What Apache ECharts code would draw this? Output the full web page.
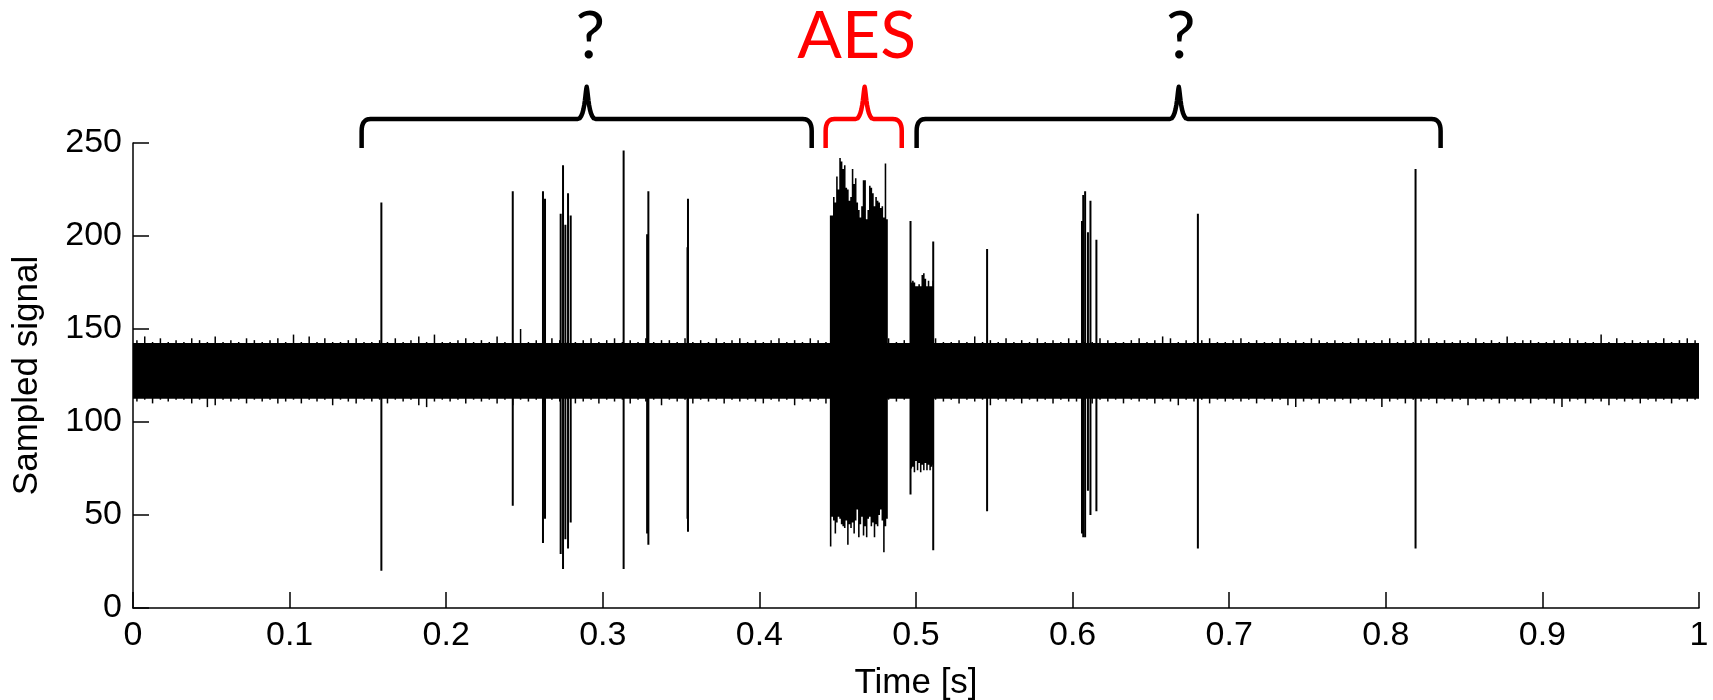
<!DOCTYPE html>
<html>
<head>
<meta charset="utf-8">
<script src="https://cdn.jsdelivr.net/npm/echarts@6/dist/echarts.min.js"></script>
<style>
  html, body { margin: 0; padding: 0; background: #fff; }
  #chart { width: 1713px; height: 700px; }
</style>
</head>
<body>
<div id="chart"></div>
<script>
// solid part of the background noise
const noiseFloor = 112.5;
const noiseCeil = 142.5;

// noise extremes, one value per 5 ms bin (drawn as thin hairs)
const noiseBin = 0.005;
const noiseHi = [
  144,146,143,145,143,144,143,145,144,143,146,143,144,143,145,144,143,144,145,143,
  147,143,146,143,145,143,143,144,145,143,143,144,143,145,143,144,146,143,147,143,
  143,144,145,143,144,143,146,143,144,150,143,144,143,145,144,143,143,144,145,143,
  144,145,143,144,143,145,143,144,144,143,145,143,144,143,145,143,144,145,143,144,
  143,144,145,143,144,143,145,144,143,146,143,144,145,143,144,143,145,143,144,143,
  143,144,145,143,143,144,143,146,143,144,143,145,143,144,143,145,143,144,143,145,
  144,143,143,145,144,143,143,144,145,143,144,146,145,143,144,143,144,145,143,143,
  144,145,143,144,143,143,145,143,144,143,145,144,143,144,143,143,145,144,143,144,
  145,143,144,143,144,145,143,144,143,144,143,145,143,144,143,146,143,144,144,143,
  143,144,143,145,144,143,143,147,143,145,143,144,143,144,143,145,143,144,145,144
];
const noiseLo = [
  111,112,110,112,111,112,112,110,112,108,109,112,111,112,110,112,111,112,110,111,
  112,110,112,111,112,109,112,111,110,112,111,112,110,112,111,112,109,108,111,112,
  111,112,110,112,111,112,110,112,109,112,111,112,110,112,111,112,110,111,112,110,
  112,111,112,110,112,111,112,109,112,111,112,110,112,111,112,110,112,111,112,111,
  110,112,111,112,109,112,111,112,110,112,111,112,110,111,112,110,112,111,112,111,
  112,110,112,111,112,110,112,111,112,109,112,111,112,110,112,111,112,110,112,111,
  111,112,110,112,111,112,110,112,111,112,110,112,111,109,112,111,112,110,112,111,
  112,111,112,110,112,111,112,109,108,111,112,110,112,111,112,110,112,111,112,108,
  111,112,110,112,111,112,110,112,111,112,109,112,111,112,110,112,111,112,110,112,
  112,110,108,111,112,110,112,111,109,112,111,112,110,112,111,112,110,112,111,112
];

// AES burst and the short block after it, 1 ms bins
const fineBin = 0.001;
const aesStart = 0.445;
const aesHi = [211,211,221,218,232,225,242,240,236,238,226,225,219,221,236,228,231,218,214,210,
  216,230,230,209,214,227,226,223,216,221,219,218,215,216,210,239,209];
const aesLo = [33,49,47,40,46,49,48,45,44,43,47,34,45,43,46,40,47,53,38,45,
  49,39,44,38,48,49,44,46,38,45,44,50,53,47,30,44,48];
const tailStart = 0.4965;
const tailHi = [175,176,175,173,173,174,173,179,180,177,173,176,173,173,176];
const tailLo = [75,76,73,79,74,78,73,77,74,78,74,77,74,76,77];

// isolated spikes
const spikeT  = [0.1586,0.2425,0.2618,0.2631,0.2731,0.2746,0.2761,0.2778,0.2795,0.3133,0.3283,0.3291,
  0.3541,0.3544,0.4965,0.5110,0.5454,0.6060,0.6068,0.6080,0.6098,0.6114,0.6152,0.6800,0.8190];
const spikeHi = [218,224,224,220,212,238,206,223,211,246,201,224,194,220,208,197,193,208,222,224,202,219,198,212,236];
const spikeLo = [20,55,35,48,29,21,37,32,46,21,40,34,48,41,61,31,52,40,38,38,63,50,52,32,32];

// annotations
const braceFrom  = [0.146, 0.4423, 0.5004];
const braceTo    = [0.4334, 0.4909, 0.835];
const braceTip   = [0.2897, 0.4672, 0.6678];
const braceColor = ['#000000', '#ff0000', '#000000'];
const braceText  = ['?', 'AES', '?'];
const textT      = [0.292, 0.4621, 0.669];
const braceLine = 262.9, braceEnd = 247.3, bracePeak = 280.2, textLevel = 307;

// filled segments, each drawn as one stepped polygon
const segments = [
  { start: 0, step: 1, hi: [noiseCeil], lo: [noiseFloor] },
  { start: aesStart, step: fineBin, hi: aesHi, lo: aesLo },
  { start: tailStart, step: fineBin, hi: tailHi, lo: tailLo }
];
const segData = segments.map(s => [
  s.start, s.start + s.step * s.hi.length, Math.min(...s.lo), Math.max(...s.hi)
]);

// hairs: [t, lo, hi, width]
const hairs = [];
noiseHi.forEach((h, i) => hairs.push([(i + 0.5) * noiseBin, noiseLo[i], h, 1.5]));
spikeT.forEach((t, i) => hairs.push([t, spikeLo[i], spikeHi[i], 2]));

const font = 'Liberation Sans, Arial, sans-serif';
const chart = echarts.init(document.getElementById('chart'));

chart.setOption({
  animation: false,
  backgroundColor: '#fff',
  grid: { left: 133, right: 14, top: 143, bottom: 92, containLabel: false, outerBoundsMode: 'none' },
  xAxis: {
    type: 'value', min: 0, max: 1, interval: 0.1,
    name: 'Time [s]', nameLocation: 'middle', nameGap: 58,
    nameTextStyle: { fontSize: 35, fontFamily: font, color: '#000' },
    axisLine: { show: true, onZero: false, lineStyle: { color: '#000', width: 1.5 } },
    axisTick: { show: true, inside: true, length: 16, lineStyle: { color: '#000', width: 1.5 } },
    axisLabel: { fontSize: 34, fontFamily: font, color: '#000', margin: 11 },
    splitLine: { show: false }
  },
  yAxis: {
    type: 'value', min: 0, max: 250, interval: 50,
    name: 'Sampled signal', nameLocation: 'middle', nameGap: 88,
    nameTextStyle: { fontSize: 35, fontFamily: font, color: '#000' },
    axisLine: { show: true, lineStyle: { color: '#000', width: 1.5 } },
    axisTick: { show: true, inside: true, length: 16, lineStyle: { color: '#000', width: 1.5 } },
    axisLabel: { fontSize: 34, fontFamily: font, color: '#000', margin: 11 },
    splitLine: { show: false }
  },
  series: [
    {
      type: 'custom',
      data: hairs,
      encode: { x: 0, y: [1, 2] },
      z: 2,
      renderItem: (params, api) => {
        const a = api.coord([api.value(0), api.value(1)]);
        const b = api.coord([api.value(0), api.value(2)]);
        return {
          type: 'line',
          shape: { x1: a[0], y1: a[1], x2: b[0], y2: b[1] },
          style: { stroke: '#000', lineWidth: api.value(3) }
        };
      }
    },
    {
      type: 'custom',
      data: segData,
      encode: { x: [0, 1], y: [2, 3] },
      z: 3,
      renderItem: (params, api) => {
        const s = segments[params.dataIndex];
        const top = [], bottom = [];
        s.hi.forEach((h, i) => {
          const t0 = s.start + i * s.step, t1 = t0 + s.step;
          top.push(api.coord([t0, h]), api.coord([t1, h]));
          bottom.push(api.coord([t0, s.lo[i]]), api.coord([t1, s.lo[i]]));
        });
        return {
          type: 'polygon',
          shape: { points: top.concat(bottom.reverse()) },
          style: { fill: '#000', stroke: null }
        };
      }
    }
  ]
});

// curly braces + labels above the plot
function bracePoints(x0, x1, xm, yl, ye, yp) {
  const pts = [[x0, ye], [x0, yl + 12]];
  const quad = (p0, c, p1) => {
    for (let k = 1; k <= 8; k++) {
      const s = k / 8, u = 1 - s;
      pts.push([u * u * p0[0] + 2 * u * s * c[0] + s * s * p1[0], u * u * p0[1] + 2 * u * s * c[1] + s * s * p1[1]]);
    }
  };
  const cubic = (p0, c1, c2, p1) => {
    for (let k = 1; k <= 10; k++) {
      const s = k / 10, u = 1 - s;
      pts.push([
        u * u * u * p0[0] + 3 * u * u * s * c1[0] + 3 * u * s * s * c2[0] + s * s * s * p1[0],
        u * u * u * p0[1] + 3 * u * u * s * c1[1] + 3 * u * s * s * c2[1] + s * s * s * p1[1]
      ]);
    }
  };
  quad([x0, yl + 12], [x0, yl], [x0 + 9, yl]);
  pts.push([xm - 9, yl]);
  cubic([xm - 9, yl], [xm - 2, yl], [xm - 1.5, yp + 6], [xm, yp]);
  cubic([xm, yp], [xm + 1.5, yp + 6], [xm + 2, yl], [xm + 9, yl]);
  pts.push([x1 - 9, yl]);
  quad([x1 - 9, yl], [x1, yl], [x1, yl + 12]);
  pts.push([x1, ye]);
  return pts;
}

const px = (t, v) => chart.convertToPixel({ gridIndex: 0 }, [t, v]);
const graphic = [];
braceFrom.forEach((t0, i) => {
  const p0 = px(t0, braceLine), p1 = px(braceTo[i], braceLine), pm = px(braceTip[i], braceLine);
  const ye = px(t0, braceEnd)[1], yp = px(t0, bracePeak)[1];
  graphic.push({
    type: 'polyline',
    shape: { points: bracePoints(p0[0], p1[0], pm[0], p0[1], ye, yp) },
    style: { stroke: braceColor[i], lineWidth: 4.5, fill: null, lineJoin: 'round', lineCap: 'butt' }
  });
  const pt = px(textT[i], textLevel);
  graphic.push({
    type: 'text',
    x: pt[0], y: pt[1],
    style: {
      text: braceText[i], fill: braceColor[i], font: '66px Lato, "Open Sans", sans-serif',
      textAlign: 'center', textVerticalAlign: 'middle', align: 'center', verticalAlign: 'middle'
    }
  });
});
chart.setOption({ graphic: graphic });
</script>
</body>
</html>
